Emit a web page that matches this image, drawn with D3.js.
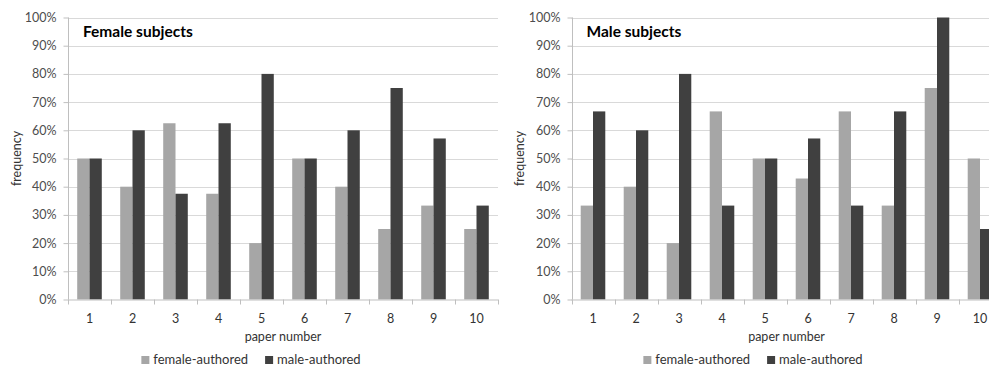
<!DOCTYPE html>
<html><head><meta charset="utf-8">
<script src="https://cdn.jsdelivr.net/npm/d3@7"></script>
<style>
html,body{margin:0;padding:0;background:#fff;overflow:hidden;}
svg{display:block;font-family:Lato,"Open Sans",sans-serif;}
</style></head>
<body>
<svg id="c" width="989" height="367"></svg>
<script>
const papers = ["1","2","3","4","5","6","7","8","9","10"];
const seriesNames = ["female-authored","male-authored"];
const femaleSubjFemaleAuth = [0.50,0.40,0.625,0.375,0.20,0.50,0.40,0.25,0.333,0.25];
const femaleSubjMaleAuth   = [0.50,0.60,0.375,0.625,0.80,0.50,0.60,0.75,0.571,0.333];
const maleSubjFemaleAuth   = [0.333,0.40,0.20,0.667,0.50,0.429,0.667,0.333,0.75,0.50];
const maleSubjMaleAuth     = [0.667,0.60,0.80,0.333,0.50,0.571,0.333,0.667,1.00,0.25];
const yTicks = [0,0.1,0.2,0.3,0.4,0.5,0.6,0.7,0.8,0.9,1.0];
const titles = ["Female subjects","Male subjects"];
const xTitle = "paper number";
const yTitle = "frequency";

const colors = ["#a6a6a6","#404040"];
const svg = d3.select("#c");

const panels = [
  {title:titles[0], a:femaleSubjFemaleAuth, b:femaleSubjMaleAuth, x0:68, legendC:251, ylabX:17},
  {title:titles[1], a:maleSubjFemaleAuth, b:maleSubjMaleAuth, x0:571.5, legendC:753, ylabX:520}
];

const plotTop = 17.5, plotBottom = 299.5, plotW = 430;

panels.forEach(p => {
  const g = svg.append("g");
  const x = d3.scaleBand().domain(papers).range([p.x0, p.x0 + plotW]).padding(0);
  const y = d3.scaleLinear().domain([0,1]).range([plotBottom, plotTop]);
  const bw = x.bandwidth()/3.5;

  g.append("g").selectAll("line").data(yTicks.slice(1)).join("line")
    .attr("x1", p.x0).attr("x2", p.x0 + plotW)
    .attr("y1", d => Math.round(y(d))+0.5).attr("y2", d => Math.round(y(d))+0.5)
    .attr("stroke", "#d9d9d9").attr("stroke-width", 1);

  const ya = d3.axisLeft(y).tickValues(yTicks).tickFormat(d3.format(".0%")).tickSize(5).tickPadding(7);
  const yg = g.append("g").attr("transform", `translate(${Math.round(p.x0)+0.5},0)`).call(ya);
  yg.select(".domain").attr("stroke", "#bfbfbf").attr("d", `M0,${plotTop}V${plotBottom}`);
  yg.selectAll(".tick line").attr("stroke", "#bfbfbf");
  yg.selectAll(".tick text").attr("fill", "#4d4d4d").style("font-size","12.5px").style("font-family","Lato");

  const bars = g.append("g");
  papers.forEach((c,i) => {
    const cx = x(c) + x.bandwidth()/2;
    bars.append("rect").attr("x", cx - bw).attr("width", bw)
      .attr("y", y(p.a[i])).attr("height", y(0) - y(p.a[i])).attr("fill", colors[0]);
    bars.append("rect").attr("x", cx).attr("width", bw)
      .attr("y", y(p.b[i])).attr("height", y(0) - y(p.b[i])).attr("fill", colors[1]);
  });

  const xa = d3.axisBottom(x).tickSize(0).tickPadding(14);
  const xg = g.append("g").attr("transform", `translate(0,${plotBottom+0.5})`).call(xa);
  xg.select(".domain").attr("stroke", "#bfbfbf").attr("d", `M${p.x0},0H${p.x0+plotW}`);
  xg.selectAll(".tick text").attr("fill", "#333").style("font-size","12.5px").style("font-family","Lato");
  g.append("g").selectAll("line").data(papers.concat(["end"])).join("line")
    .attr("x1", (d,i) => Math.round(p.x0 + i*x.bandwidth())+0.5)
    .attr("x2", (d,i) => Math.round(p.x0 + i*x.bandwidth())+0.5)
    .attr("y1", plotBottom).attr("y2", plotBottom+5).attr("stroke", "#bfbfbf");

  g.append("text").attr("x", p.x0 + 15).attr("y", 37).text(p.title)
    .attr("fill", "#000").style("font-weight","bold").style("font-size","15.5px");

  g.append("text").attr("x", p.x0 + plotW/2).attr("y", 341).attr("text-anchor","middle")
    .text(xTitle).attr("fill","#333").style("font-size","12.5px");
  g.append("text").attr("transform", `translate(${p.ylabX},${(plotTop+plotBottom)/2}) rotate(-90)`)
    .attr("text-anchor","middle").attr("dy","0.35em")
    .text(yTitle).attr("fill","#333").style("font-size","12.5px");

  const lg = g.append("g");
  let cx = 0;
  seriesNames.forEach((s,i) => {
    const it = lg.append("g").attr("transform", `translate(${cx},0)`);
    it.append("rect").attr("x",0).attr("y",-8).attr("width",8).attr("height",8).attr("fill",colors[i]);
    const t = it.append("text").attr("x",12).attr("y",0).text(s).attr("fill","#333").style("font-size","13px");
    cx += 12 + t.node().getComputedTextLength() + 17;
  });
  const totalW = cx - 17;
  lg.attr("transform", `translate(${p.legendC - totalW/2},364)`);
});
</script>
</body></html>
